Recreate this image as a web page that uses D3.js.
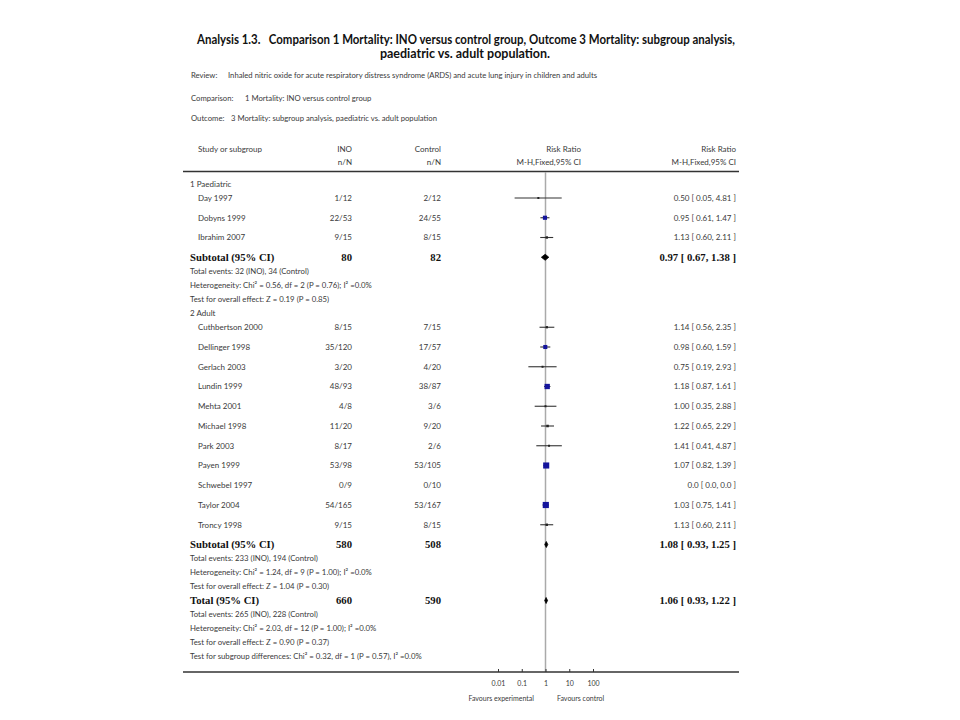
<!DOCTYPE html>
<html><head><meta charset="utf-8">
<script src="https://cdn.jsdelivr.net/npm/d3@7"></script>
<style>
html,body{margin:0;padding:0;background:#fff;}
svg{display:block;}
text{white-space:pre;}
</style></head>
<body>
<script>
// ---------- DATA ----------
const titleLines = ["Analysis 1.3.   Comparison 1 Mortality: INO versus control group, Outcome 3 Mortality: subgroup analysis,",
                    "paediatric vs. adult population."];
const metaLabels = ["Review:", "Comparison:", "Outcome:"];
const metaTexts = ["Inhaled nitric oxide for acute respiratory distress syndrome (ARDS) and acute lung injury in children and adults",
                   "1 Mortality: INO versus control group",
                   "3 Mortality: subgroup analysis, paediatric vs. adult population"];

const groupNames = ["1 Paediatric", "2 Adult"];
const studies = ["Day 1997","Dobyns 1999","Ibrahim 2007",
                 "Cuthbertson 2000","Dellinger 1998","Gerlach 2003","Lundin 1999","Mehta 2001","Michael 1998","Park 2003","Payen 1999","Schwebel 1997","Taylor 2004","Troncy 1998"];
const studyGroup = [0,0,0, 1,1,1,1,1,1,1,1,1,1,1];
const inoEvents  = [1,22,9, 8,35,3,48,4,11,8,53,0,54,9];
const inoTotal   = [12,53,15, 15,120,20,93,8,20,17,98,9,165,15];
const ctrlEvents = [2,24,8, 7,17,4,38,3,9,2,53,0,53,8];
const ctrlTotal  = [12,55,15, 15,57,20,87,6,20,6,105,10,167,15];
const rr  = [0.50,0.95,1.13, 1.14,0.98,0.75,1.18,1.00,1.22,1.41,1.07,null,1.03,1.13];
const lo  = [0.05,0.61,0.60, 0.56,0.60,0.19,0.87,0.35,0.65,0.41,0.82,null,0.75,0.60];
const hi  = [4.81,1.47,2.11, 2.35,1.59,2.93,1.61,2.88,2.29,4.87,1.39,null,1.41,2.11];
const weightPct = [0.9,10.1,3.4, 3.0,9.8,1.7,16.7,1.5,3.8,1.3,21.9,0,22.5,3.4];

const pooledLabels = ["Subtotal (95% CI)","Subtotal (95% CI)","Total (95% CI)"];
const pooledIno  = [80,580,660];
const pooledCtrl = [82,508,590];
const pooledRR = [0.97,1.08,1.06];
const pooledLo = [0.67,0.93,0.93];
const pooledHi = [1.38,1.25,1.22];
const pooledNotes = [
  ["Total events: 32 (INO), 34 (Control)","Heterogeneity: Chi² = 0.56, df = 2 (P = 0.76); I² =0.0%","Test for overall effect: Z = 0.19 (P = 0.85)"],
  ["Total events: 233 (INO), 194 (Control)","Heterogeneity: Chi² = 1.24, df = 9 (P = 1.00); I² =0.0%","Test for overall effect: Z = 1.04 (P = 0.30)"],
  ["Total events: 265 (INO), 228 (Control)","Heterogeneity: Chi² = 2.03, df = 12 (P = 1.00); I² =0.0%","Test for overall effect: Z = 0.90 (P = 0.37)","Test for subgroup differences: Chi² = 0.32, df = 1 (P = 0.57), I² =0.0%"]
];
const tickValues = [0.01,0.1,1,10,100];
const tickLabels = ["0.01","0.1","1","10","100"];
const favourLabels = ["Favours experimental","Favours control"];

// ---------- LAYOUT ----------
const W = 960, H = 720;
const svg = d3.select("body").append("svg").attr("width",W).attr("height",H);
const SANS = "Lato, 'Open Sans', sans-serif";
const SERIF = "'Liberation Serif', 'DejaVu Serif', serif";
const TXT = "#3a3a3a";

const x = d3.scaleLog().domain([0.01,100]).range([498,593]);
const colStudy = 190, colIndent = 198, colIno = 352, colCtrl = 441, colPlotHead = 581, colRight = 736;
const lineL = 183, lineR = 739;

// title
svg.append("text").attr("x",197).attr("y",44).attr("font-family",SANS).attr("font-weight","bold")
  .attr("font-size",12.5).attr("fill","#111").attr("textLength",538).attr("lengthAdjust","spacingAndGlyphs")
  .text(titleLines[0]);
svg.append("text").attr("x",465).attr("y",58).attr("text-anchor","middle").attr("font-family",SANS).attr("font-weight","bold")
  .attr("font-size",12.5).attr("fill","#111").text(titleLines[1]);

// meta lines
const metaY = [75,98,118], metaX2 = [228,245,231];
metaLabels.forEach((l,i)=>{
  svg.append("text").attr("x",191).attr("y",metaY[i]).attr("dy","0.35em").attr("font-family",SANS).attr("font-size",7.7).attr("fill",TXT).text(l);
  svg.append("text").attr("x",metaX2[i]).attr("y",metaY[i]).attr("dy","0.35em").attr("font-family",SANS).attr("font-size",7.7).attr("fill",TXT).text(metaTexts[i]);
});

function t(xp,yp,s,opt={}){
  return svg.append("text").attr("x",xp).attr("y",yp).attr("dy","0.35em")
    .attr("font-family",opt.serif?SERIF:SANS).attr("font-size",opt.size||8)
    .attr("font-weight",opt.bold?"bold":"normal").attr("fill",opt.fill||TXT)
    .attr("text-anchor",opt.anchor||"start").text(s);
}
// header
t(colIndent,149,"Study or subgroup");
t(colIno,149,"INO",{anchor:"end"}); t(colIno,162,"n/N",{anchor:"end"});
t(colCtrl,149,"Control",{anchor:"end"}); t(colCtrl,162,"n/N",{anchor:"end"});
t(colPlotHead,149,"Risk Ratio",{anchor:"end"}); t(colPlotHead,162,"M-H,Fixed,95% CI",{anchor:"end"});
t(colRight,149,"Risk Ratio",{anchor:"end"}); t(colRight,162,"M-H,Fixed,95% CI",{anchor:"end"});

svg.append("line").attr("x1",lineL).attr("x2",lineR).attr("y1",171.5).attr("y2",171.5).attr("stroke","#333").attr("stroke-width",1.4);

// build rows
const rows = [];
groupNames.forEach((g,gi)=>{
  rows.push({type:"group",label:g});
  studies.forEach((s,i)=>{ if(studyGroup[i]===gi) rows.push({type:"study",i}); });
  rows.push({type:"pooled",p:gi});
  pooledNotes[gi].forEach(n=>rows.push({type:"note",label:n}));
});
rows.push({type:"pooled",p:2});
pooledNotes[2].forEach(n=>rows.push({type:"note",label:n}));

let y = 184;
rows.forEach((r,k)=>{
  if(k>0){
    const prev = rows[k-1];
    const big = (prev.type==="study" && (r.type==="study"||r.type==="pooled"));
    y += big ? 19.75 : 14;
  }
  r.y = y;
});

// reference line at 1
svg.append("line").attr("x1",x(1)).attr("x2",x(1)).attr("y1",172).attr("y2",672).attr("stroke","#aaa").attr("stroke-width",1.5);

const f2 = d3.format(".2f");
rows.forEach(r=>{
  if(r.type==="group"){ t(colStudy,r.y,r.label); }
  else if(r.type==="note"){ t(colStudy,r.y,r.label,{size:7.8}); }
  else if(r.type==="study"){
    const i=r.i;
    t(colIndent,r.y,studies[i]);
    t(colIno,r.y,inoEvents[i]+"/"+inoTotal[i],{anchor:"end"});
    t(colCtrl,r.y,ctrlEvents[i]+"/"+ctrlTotal[i],{anchor:"end"});
    if(rr[i]===null){
      t(colRight,r.y,"0.0 [ 0.0, 0.0 ]",{anchor:"end"});
    } else {
      t(colRight,r.y,f2(rr[i])+" [ "+f2(lo[i])+", "+f2(hi[i])+" ]",{anchor:"end"});
      svg.append("line").attr("x1",x(lo[i])).attr("x2",x(hi[i])).attr("y1",r.y).attr("y2",r.y).attr("stroke","#333").attr("stroke-width",1.1);
      const s = Math.max(2, 1.3*Math.sqrt(weightPct[i]));
      svg.append("rect").attr("x",x(rr[i])-s/2).attr("y",r.y-s/2).attr("width",s).attr("height",s)
        .attr("fill", s>3 ? "#14149c" : "#222");
    }
  } else if(r.type==="pooled"){
    const p=r.p;
    const o={serif:true,bold:true,size:10.7,fill:"#111"};
    t(colStudy,r.y,pooledLabels[p],o);
    t(colIno,r.y,pooledIno[p],{...o,anchor:"end"});
    t(colCtrl,r.y,pooledCtrl[p],{...o,anchor:"end"});
    t(colRight,r.y,f2(pooledRR[p])+" [ "+f2(pooledLo[p])+", "+f2(pooledHi[p])+" ]",{...o,anchor:"end"});
    const hh=3;
    const pts=[[x(pooledLo[p]),r.y],[x(pooledRR[p]),r.y-hh],[x(pooledHi[p]),r.y],[x(pooledRR[p]),r.y+hh]];
    svg.append("path").attr("d","M"+pts.map(q=>q.join(",")).join("L")+"Z").attr("fill","#000").attr("stroke","#000").attr("stroke-width",0.8);
  }
});

// bottom axis
svg.append("line").attr("x1",lineL).attr("x2",lineR).attr("y1",672).attr("y2",672).attr("stroke","#333").attr("stroke-width",1.4);
const axis = d3.axisBottom(x).tickValues(tickValues).tickFormat((d,i)=>tickLabels[i]).tickSizeInner(-3).tickSizeOuter(0).tickPadding(9);
const ag = svg.append("g").attr("transform","translate(0,672)").call(axis);
ag.select(".domain").remove();
ag.selectAll(".tick line").attr("stroke","#333");
ag.selectAll(".tick text").attr("font-family",SANS).attr("font-size",7).attr("fill",TXT);
t(534,699,favourLabels[0],{size:7,anchor:"end"});
t(557,699,favourLabels[1],{size:7});
</script>
</body></html>
